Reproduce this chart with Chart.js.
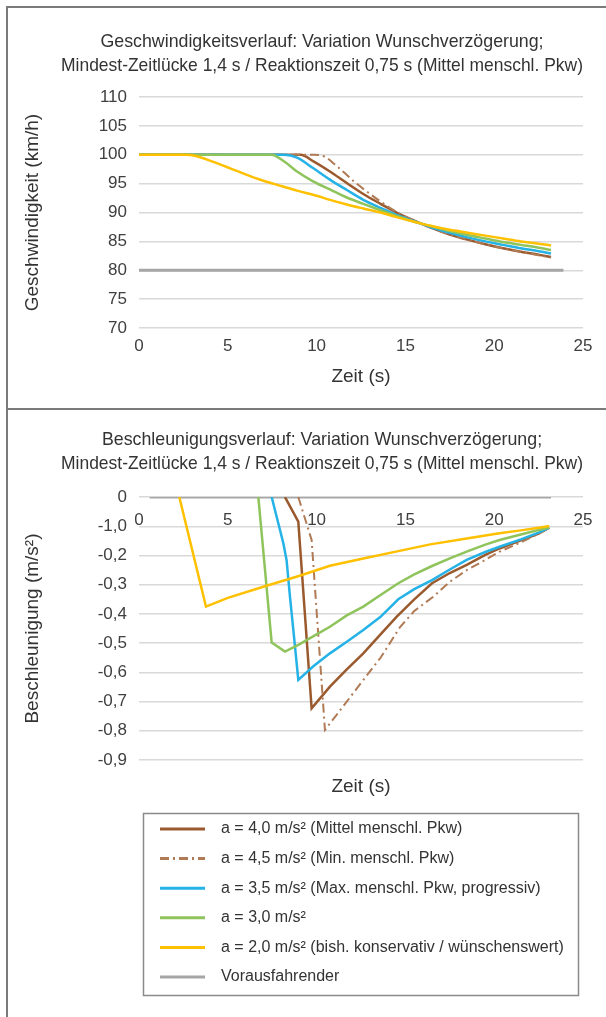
<!DOCTYPE html>
<html><head><meta charset="utf-8">
<script src="https://cdn.jsdelivr.net/npm/chart.js@4.4.1/dist/chart.umd.min.js"></script>
<style>
html,body{margin:0;padding:0;background:#fff;}
#wrap{position:relative;width:606px;height:1017px;overflow:hidden;background:#fff;}
#c1{position:absolute;left:0;top:0;}
#c2{position:absolute;left:0;top:409px;}
.bl{position:absolute;background:#7a7a7a;}
</style></head><body>
<div id="wrap">
<canvas id="c1" width="606" height="409"></canvas>
<canvas id="c2" width="606" height="608"></canvas>
<div class="bl" style="left:6px;top:6px;width:2px;height:1011px"></div>
<div class="bl" style="left:6px;top:6px;width:600px;height:2px"></div>
<div class="bl" style="left:6px;top:408px;width:600px;height:2px"></div>
</div>
<script>
// ---------- texts ----------
const speedTitle = ['Geschwindigkeitsverlauf: Variation Wunschverzögerung;', 'Mindest-Zeitlücke 1,4 s / Reaktionszeit 0,75 s (Mittel menschl. Pkw)'];
const accTitle = ['Beschleunigungsverlauf: Variation Wunschverzögerung;', 'Mindest-Zeitlücke 1,4 s / Reaktionszeit 0,75 s (Mittel menschl. Pkw)'];
const xAxisTitle = 'Zeit (s)';
const speedAxisTitle = 'Geschwindigkeit (km/h)';
const accAxisTitle = 'Beschleunigung (m/s²)';
const seriesLabels = [
  'a = 4,0 m/s² (Mittel menschl. Pkw)',
  'a = 4,5 m/s² (Min. menschl. Pkw)',
  'a = 3,5 m/s² (Max. menschl. Pkw, progressiv)',
  'a = 3,0 m/s²',
  'a = 2,0 m/s² (bish. konservativ / wünschenswert)',
  'Vorausfahrender'
];
const accTickLabels = ['0', '-1,0', '-0,2', '-0,3', '-0,4', '-0,5', '-0,6', '-0,7', '-0,8', '-0,9'];

// ---------- speed (km/h) ----------
const tSpeed40 = [0, 9.1, 9.8, 10.75, 11.7, 12.63, 13.6, 14.5, 15.5, 16.5, 17.5, 18.5, 19.5, 20.5, 21.5, 22.5, 23.2];
const vSpeed40 = [100, 100, 98.9, 97.1, 95.1, 93.2, 91.5, 90.0, 88.6, 87.3, 86.2, 85.3, 84.5, 83.8, 83.2, 82.7, 82.3];
const tSpeed45 = [0, 9.9, 10.5, 11.0, 11.6, 12.1, 12.63, 13.6, 14.5, 15.5, 16.5, 17.5, 18.5, 19.5, 20.5, 21.5, 22.5, 23.2];
const vSpeed45 = [100, 100, 99.6, 98.4, 96.8, 95.4, 94.1, 91.9, 90.1, 88.6, 87.3, 86.2, 85.3, 84.5, 83.8, 83.2, 82.6, 82.2];
const tSpeed35 = [0, 8.2, 8.9, 9.8, 10.75, 11.7, 12.63, 13.6, 14.5, 15.5, 16.5, 17.5, 18.5, 19.5, 20.5, 21.5, 22.5, 23.2];
const vSpeed35 = [100, 100, 99.5, 97.7, 95.7, 93.9, 92.2, 90.8, 89.6, 88.5, 87.4, 86.5, 85.7, 85.0, 84.4, 83.8, 83.3, 82.9];
const tSpeed30 = [0, 7.45, 8.2, 8.9, 9.8, 10.75, 11.7, 12.63, 13.6, 14.5, 15.5, 16.5, 17.5, 18.5, 19.5, 20.5, 21.5, 22.5, 23.2];
const vSpeed30 = [100, 100, 98.8, 97.1, 95.4, 94.0, 92.6, 91.5, 90.4, 89.4, 88.4, 87.6, 86.8, 86.1, 85.5, 84.9, 84.4, 83.9, 83.5];
const tSpeed20 = [0, 2.6, 3.2, 3.8, 5.1, 6.0, 7.0, 8.0, 8.9, 10.0, 10.75, 11.7, 12.63, 13.6, 14.5, 15.5, 16.4, 17.5, 18.5, 19.5, 20.5, 21.5, 22.5, 23.2];
const vSpeed20 = [100, 100, 99.8, 99.2, 97.7, 96.6, 95.5, 94.6, 93.8, 92.9, 92.2, 91.4, 90.7, 90.0, 89.2, 88.4, 87.7, 87.0, 86.5, 86.0, 85.5, 85.0, 84.6, 84.3];
const tSpeedLead = [0, 23.9];
const vSpeedLead = [80, 80];

// ---------- acceleration (m/s²) ----------
const tAcc40 = [8.22, 8.97, 9.72, 10.75, 11.7, 12.63, 13.6, 14.5, 15.5, 16.5, 17.5, 18.45, 19.5, 20.3, 21.5, 22.5, 23.1];
const aAcc40 = [0, -0.084, -0.723, -0.649, -0.59, -0.535, -0.47, -0.41, -0.35, -0.295, -0.26, -0.232, -0.198, -0.176, -0.148, -0.125, -0.105];
const tAcc45 = [8.97, 9.72, 10.47, 11.5, 12.63, 13.6, 14.7, 15.5, 16.57, 17.5, 18.45, 19.5, 20.3, 21.5, 22.5, 23.1];
const aAcc45 = [0, -0.147, -0.797, -0.716, -0.626, -0.55, -0.445, -0.39, -0.341, -0.29, -0.25, -0.215, -0.187, -0.155, -0.125, -0.105];
const tAcc35 = [7.47, 8.13, 8.31, 8.5, 8.69, 8.97, 9.8, 10.75, 11.7, 12.63, 13.6, 14.6, 15.5, 16.5, 17.5, 18.45, 19.5, 20.3, 21.5, 22.5, 23.1];
const aAcc35 = [0, -0.159, -0.216, -0.341, -0.455, -0.626, -0.58, -0.535, -0.495, -0.455, -0.41, -0.35, -0.315, -0.284, -0.248, -0.215, -0.188, -0.17, -0.145, -0.122, -0.105];
const tAcc30 = [6.72, 7.47, 8.22, 9.0, 10.0, 10.75, 11.7, 12.63, 13.6, 14.6, 15.5, 16.5, 17.5, 18.45, 19.5, 20.3, 21.5, 22.5, 23.1];
const aAcc30 = [0, -0.498, -0.529, -0.505, -0.47, -0.444, -0.405, -0.375, -0.335, -0.295, -0.265, -0.236, -0.21, -0.187, -0.163, -0.147, -0.128, -0.113, -0.104];
const tAcc20 = [2.27, 3.77, 5.0, 7.0, 9.0, 10.75, 12.63, 14.6, 16.4, 18.45, 20.3, 21.5, 22.5, 23.1];
const aAcc20 = [0, -0.375, -0.345, -0.307, -0.27, -0.235, -0.21, -0.185, -0.162, -0.142, -0.124, -0.114, -0.105, -0.099];
const tAccLead = [0.6, 23.2];
const aAccLead = [0, 0];

// ---------- styles ----------
const seriesColors = ['#9a5a2e', '#b07a55', '#25b2e6', '#8fc45c', '#ffc000', '#a6a6a6'];
const FONT = "'Liberation Sans', Arial, sans-serif";
Chart.defaults.font.family = FONT;
Chart.defaults.color = '#404040';

function pts(ts, vs) { return ts.map((t, i) => ({x: t, y: vs[i]})); }
function mkSets(groups, smooth) {
  const dashes = [[], [9, 4, 2, 4], [], [], [], []];
  const widths = [2.5, 2, 2.5, 2.5, 2.5, 3];
  const orders = [5, 4, 3, 2, 1, 10];
  return groups.map((g, i) => ({
    label: seriesLabels[i],
    data: pts(g[0], g[1]),
    borderColor: seriesColors[i],
    backgroundColor: seriesColors[i],
    borderWidth: widths[i],
    borderDash: dashes[i],
    pointRadius: 0,
    fill: false,
    tension: 0,
    cubicInterpolationMode: smooth ? 'monotone' : 'default',
    order: orders[i]
  }));
}

const legendBox = {
  id: 'legendBox',
  afterDraw(chart) {
    const ctx = chart.ctx;
    ctx.save();
    ctx.strokeStyle = '#8a8a8a';
    ctx.lineWidth = 1.5;
    ctx.setLineDash([]);
    ctx.strokeRect(143.5, 404.5, 435, 182);
    chart.data.datasets.forEach((ds, i) => {
      const y = 420 + i * 29.6;
      ctx.beginPath();
      ctx.setLineDash(ds.borderDash || []);
      ctx.strokeStyle = ds.borderColor;
      ctx.lineWidth = 3;
      ctx.moveTo(160, y); ctx.lineTo(205, y);
      ctx.stroke();
      ctx.setLineDash([]);
      ctx.fillStyle = '#333';
      ctx.font = '16px ' + FONT;
      ctx.textBaseline = 'middle';
      ctx.textAlign = 'left';
      ctx.fillText(ds.label, 221, y);
    });
    ctx.restore();
  }
};

const PADL = 61;           // shifts the centred title to the right
const YW = 139 - PADL;     // y scale width so the plot starts at x=139
const YTITLE_PAD = 33 - PADL - 11.4;

new Chart(document.getElementById('c1'), {
  type: 'line',
  data: {datasets: mkSets([
    [tSpeed40, vSpeed40], [tSpeed45, vSpeed45], [tSpeed35, vSpeed35],
    [tSpeed30, vSpeed30], [tSpeed20, vSpeed20], [tSpeedLead, vSpeedLead]
  ], true)},
  options: {
    responsive: false, animation: false, devicePixelRatio: 1,
    layout: {padding: {top: 0, left: PADL, right: 23, bottom: 0}},
    plugins: {
      legend: {display: false}, tooltip: {enabled: false},
      title: {display: true, text: speedTitle, color: '#333', font: {size: 17.8, weight: 'normal', lineHeight: 1.35}, padding: {top: 30, bottom: 19}}
    },
    scales: {
      x: {type: 'linear', min: 0, max: 25,
        ticks: {stepSize: 5, font: {size: 17}, padding: 8, color: '#404040'},
        grid: {display: false, drawTicks: false}, border: {display: false},
        title: {display: true, text: xAxisTitle, color: '#333', font: {size: 19}, padding: {top: 0, bottom: 20.6}},
        afterFit: s => { s.height = 81; }},
      y: {min: 70, max: 110,
        ticks: {stepSize: 5, font: {size: 17}, padding: 12, color: '#404040'},
        grid: {color: '#d9d9d9', lineWidth: 1.5, drawTicks: false}, border: {display: false},
        title: {display: true, text: speedAxisTitle, color: '#333', font: {size: 19}, padding: {top: YTITLE_PAD, bottom: 0}},
        afterFit: s => { s.width = YW; }}
    }
  }
});

new Chart(document.getElementById('c2'), {
  type: 'line',
  data: {datasets: mkSets([
    [tAcc40, aAcc40], [tAcc45, aAcc45], [tAcc35, aAcc35],
    [tAcc30, aAcc30], [tAcc20, aAcc20], [tAccLead, aAccLead]
  ], false)},
  options: {
    responsive: false, animation: false, devicePixelRatio: 1,
    layout: {padding: {top: 0, left: PADL, right: 23, bottom: 207}},
    plugins: {
      legend: {display: false}, tooltip: {enabled: false},
      title: {display: true, text: accTitle, color: '#333', font: {size: 17.8, weight: 'normal', lineHeight: 1.35}, padding: {top: 19, bottom: 21}}
    },
    scales: {
      x: {type: 'linear', min: 0, max: 25, position: {y: 0},
        ticks: {stepSize: 5, font: {size: 17}, padding: 13, color: '#404040'},
        grid: {display: false, drawTicks: false}, border: {display: false}},
      x2: {type: 'linear', min: 0, max: 25, position: 'bottom',
        ticks: {display: false}, grid: {display: false, drawTicks: false}, border: {display: false},
        title: {display: true, text: xAxisTitle, color: '#333', font: {size: 19}, padding: {top: 0, bottom: 11.6}},
        afterFit: s => { s.height = 50; }},
      y: {min: -0.9, max: 0,
        ticks: {stepSize: 0.1, font: {size: 17}, padding: 12, color: '#404040',
          callback: (v, i, ticks) => accTickLabels[ticks.length - 1 - i]},
        grid: {color: '#d9d9d9', lineWidth: 1.5, drawTicks: false}, border: {display: false},
        title: {display: true, text: accAxisTitle, color: '#333', font: {size: 19}, padding: {top: YTITLE_PAD, bottom: 0}},
        afterFit: s => { s.width = YW; }}
    }
  },
  plugins: [legendBox]
});
</script>
</body></html>
